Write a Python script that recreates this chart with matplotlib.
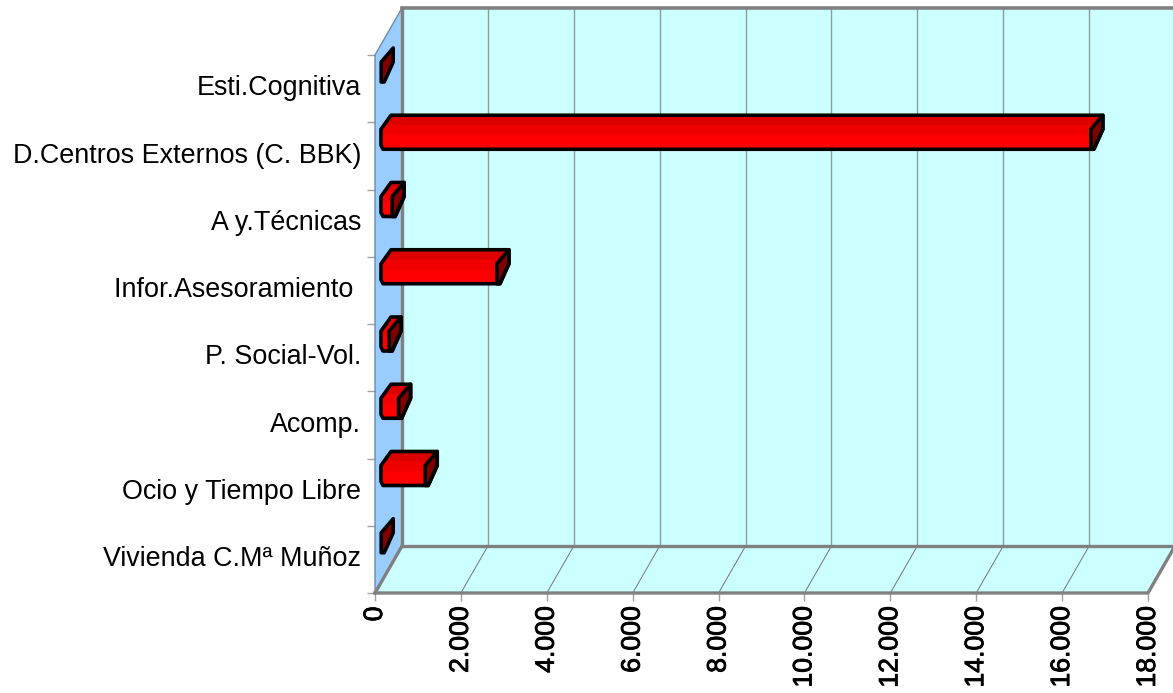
import matplotlib
matplotlib.use("Agg")
import matplotlib.pyplot as plt
import matplotlib.patheffects as pe

# categories from top to bottom
categories = ["Esti.Cognitiva", "D.Centros Externos (C. BBK)", "A y.Técnicas",
	"Infor.Asesoramiento ", "P. Social-Vol.", "Acomp.", "Ocio y Tiempo Libre",
	"Vivienda C.Mª Muñoz"]
values = [5, 16530, 260, 2700, 190, 410, 1030, 5]
x_ticks = [0, 2000, 4000, 6000, 8000, 10000, 12000, 14000, 16000, 18000]
x_labels = ["0", "2.000", "4.000", "6.000", "8.000", "10.000", "12.000", "14.000", "16.000", "18.000"]

plt.rcParams['font.family'] = ['Liberation Sans', 'DejaVu Sans']

W, H = 1173, 693
L, R, T, B = 375, 1148, 55, 593
fig = plt.figure(figsize=(W / 100, H / 100), dpi=100)
ax = fig.add_axes([L / W, (H - B) / H, (R - L) / W, (B - T) / H])
ax.set_xlim(0, 18000)
ax.set_ylim(len(categories), 0)

# data units for one pixel
XU = 18000 / (R - L)
YU = len(categories) / (B - T)
DX, DY = 27 * XU, 47 * YU  # depth of the box
n = len(categories)
GRAY = '#808080'


def poly(pts, **kw):
	ax.fill([p[0] for p in pts], [p[1] for p in pts], clip_on=False, **kw)


def line(xs, ys, **kw):
	ax.plot(xs, ys, clip_on=False, solid_capstyle='projecting', **kw)


# walls and floor
poly([(DX, -DY), (18000 + DX, -DY), (18000 + DX, n - DY), (DX, n - DY)], fc='#CCFFFF', ec='none', zorder=1)
poly([(0, n), (18000, n), (18000 + DX, n - DY), (DX, n - DY)], fc='#CCFFFF', ec='none', zorder=1)
poly([(0, 0), (DX, -DY), (DX, n - DY), (0, n)], fc='#99CCFF', ec='none', zorder=1)

for t in x_ticks[1:-1]:
	line([t + DX, t + DX], [-DY, n - DY], color='#8A9C9C', lw=1.0, zorder=2)
	line([t, t + DX], [n, n - DY], color='#6E7878', lw=0.7, zorder=2)

line([0, 0, DX], [n, 0, -DY], color='#6C8CAC', lw=1.0, zorder=2)
line([DX, 18000 + DX], [-DY, -DY], color=GRAY, lw=2.6, zorder=3)
line([DX, DX], [-DY, n - DY], color=GRAY, lw=2.4, zorder=3)
line([DX, 18000 + DX], [n - DY, n - DY], color=GRAY, lw=2.4, zorder=3)
line([0, DX], [n, n - DY], color=GRAY, lw=2.4, zorder=3)
line([0, 18000, 18000 + DX], [n, n, n - DY], color=GRAY, lw=2.4, zorder=3)

# bars
x0 = 6 * XU
for i, v in enumerate(values):
	yb = i + 27 * YU
	xe = x0 + v
	p = lambda a, b: (xe + a * XU, yb - b * YU)
	q = lambda a, b: (x0 + a * XU, yb - b * YU)
	side = [p(0, 0), p(0, 20), p(12, 34), p(12, 20), p(3, 0)]
	if v > 20:
		outline = [q(2, 0), q(0, 4), q(0, 20), q(10, 34), p(12, 34), p(12, 20), p(3, 0)]
		poly(outline, fc='#FF0000', ec='none', zorder=5)
		poly([q(2.9, 24), q(10, 34), p(12, 34), p(2.9, 24)], fc='#DD0000', ec='none', zorder=5)
		poly([q(0, 14), q(0, 20), q(2.9, 24), p(2.9, 24), p(0, 20), p(0, 14)], fc='#F00000', ec='none', zorder=5)
		poly(outline, fc='none', ec='black', lw=2.6, joinstyle='round', zorder=7)
	poly(side, fc='#800000', ec='black', lw=2.6, joinstyle='round', zorder=6)

# axes furniture
for s in ax.spines.values():
	s.set_visible(False)
ax.patch.set_visible(False)
ax.set_xticks(x_ticks)
ax.set_xticklabels(x_labels, rotation=90, fontsize=19.2, color='black')
for lab in ax.get_xticklabels():
	lab.set_path_effects([pe.withStroke(linewidth=0.6, foreground='black')])
ax.tick_params(axis='x', length=5.8, width=1.0, color='#A0A0A0', pad=4)
ax.set_yticks(range(n + 1))
ax.set_yticklabels([])
ax.tick_params(axis='y', which='major', length=5.8, width=1.0, color='#A0A0A0')
ax.set_yticks([i + 0.45 for i in range(n)], minor=True)
ax.set_yticklabels(categories, minor=True, fontsize=19.4, color='black')
ax.tick_params(axis='y', which='minor', length=0, pad=10)

fig.savefig("out.png", dpi=100)
